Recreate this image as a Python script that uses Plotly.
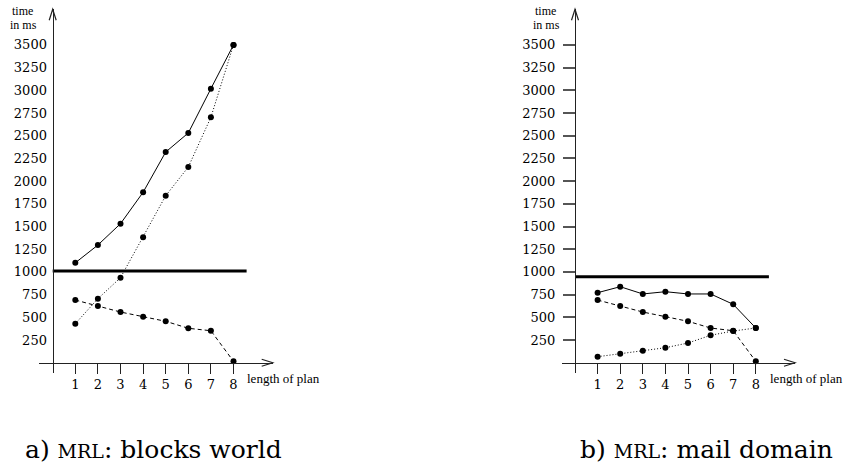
import plotly.graph_objects as go

# ---------------- data ----------------
plan_length = [1, 2, 3, 4, 5, 6, 7, 8]

# a) MRL: blocks world
blocks_solid = [1100, 1296, 1531, 1877, 2320, 2530, 3018, 3500]
blocks_dotted = [429, 705, 936, 1381, 1839, 2155, 2703, 3500]
blocks_dashed = [690, 624, 558, 507, 456, 379, 352, 15]
blocks_threshold = 1010

# b) MRL: mail domain
mail_solid = [771, 837, 757, 782, 757, 757, 643, 382]
mail_dashed = [690, 624, 558, 507, 456, 382, 352, 15]
mail_dotted = [66, 99, 132, 165, 217, 302, 349, 382]
mail_threshold = 947

threshold_span = [0, 8.58]

y_ticks = [250, 500, 750, 1000, 1250, 1500, 1750, 2000, 2250, 2500, 2750, 3000, 3250, 3500]
x_ticks = plan_length

# ---------------- layout geometry (pixels) ----------------
W, H = 843, 469
X_UNIT = 22.6          # px per plan step
Y_UNIT = 22.7 / 250.0  # px per ms
ZERO_Y = 362.7
TOP_Y = 9.3
BOT_Y = 373.0


def pxf(x):
    return x / W


def pyf(y):
    return 1 - y / H


panels = [
    dict(origin=52.7, left=39.3, right=272.7, xa="xaxis", ya="yaxis", ticks=""),
    dict(origin=575.0, left=561.7, right=795.0, xa="xaxis2", ya="yaxis2", ticks="outside"),
]

fig = go.Figure()

serif = "Liberation Serif"
num_font = dict(family="DejaVu Serif", size=13, color="black")


def add_series(xref, yref, ys, dash, name):
    fig.add_trace(go.Scatter(
        x=plan_length, y=ys, mode="lines+markers", name=name,
        xaxis=xref, yaxis=yref,
        line=dict(color="black", width=1, dash=dash),
        marker=dict(color="black", size=6),
        cliponaxis=False, showlegend=False, hoverinfo="skip"))


def add_threshold(xref, yref, val):
    fig.add_trace(go.Scatter(
        x=threshold_span, y=[val, val], mode="lines",
        xaxis=xref, yaxis=yref,
        line=dict(color="black", width=3),
        showlegend=False, hoverinfo="skip"))


add_threshold("x", "y", blocks_threshold)
add_series("x", "y", blocks_solid, "solid", "solid")
add_series("x", "y", blocks_dotted, "1px,2px", "dotted")
add_series("x", "y", blocks_dashed, "4px,3px", "dashed")

add_threshold("x2", "y2", mail_threshold)
add_series("x2", "y2", mail_solid, "solid", "solid")
add_series("x2", "y2", mail_dashed, "4px,3px", "dashed")
add_series("x2", "y2", mail_dotted, "1px,2px", "dotted")

layout = dict(
    width=W, height=H, autosize=False,
    margin=dict(l=0, r=0, t=0, b=0),
    paper_bgcolor="white", plot_bgcolor="white",
    showlegend=False,
)

shapes = []
annotations = []

for i, p in enumerate(panels):
    o, l, r = p["origin"], p["left"], p["right"]
    xr = [(l - o) / X_UNIT, (r - o) / X_UNIT]
    yr = [(ZERO_Y - BOT_Y) / Y_UNIT, (ZERO_Y - TOP_Y) / Y_UNIT]
    layout[p["xa"]] = dict(
        domain=[pxf(l), pxf(r)], range=xr, anchor="free", position=pyf(ZERO_Y),
        showline=True, linecolor="#222", linewidth=1.3,
        showgrid=False, zeroline=False,
        tickmode="array", tickvals=x_ticks, ticktext=[str(v) for v in x_ticks],
        ticks="outside", ticklen=10, tickwidth=1.3, tickcolor="#222",
        tickfont=num_font, fixedrange=True,
    )
    layout[p["ya"]] = dict(
        domain=[pyf(BOT_Y), pyf(TOP_Y)], range=yr, anchor="free", position=pxf(o),
        showline=True, linecolor="#222", linewidth=1.3,
        showgrid=False, zeroline=False,
        tickmode="array", tickvals=y_ticks, ticktext=[str(v) for v in y_ticks],
        ticks=p["ticks"], ticklen=12, tickwidth=1.5, tickcolor="#555",
        tickfont=num_font, fixedrange=True,
        ticklabelstandoff=(3 if p["ticks"] == "" else 5),
    )
    # axis arrowheads (open V)
    shapes.append(dict(
        type="path", xref="paper", yref="paper",
        path=f"M {pxf(o-3.5)},{pyf(TOP_Y+11)} L {pxf(o)},{pyf(TOP_Y)} L {pxf(o+3.5)},{pyf(TOP_Y+11)}",
        line=dict(color="#222", width=1.2)))
    shapes.append(dict(
        type="path", xref="paper", yref="paper",
        path=f"M {pxf(r-11)},{pyf(ZERO_Y-3.5)} L {pxf(r)},{pyf(ZERO_Y)} L {pxf(r-11)},{pyf(ZERO_Y+3.5)}",
        line=dict(color="#222", width=1.2)))
    # axis titles
    annotations.append(dict(
        xref="paper", yref="paper", x=pxf(o - 30), y=pyf(11), xanchor="center", yanchor="middle",
        text="time", showarrow=False, borderpad=0,
        font=dict(family=serif, size=12, color="black")))
    annotations.append(dict(
        xref="paper", yref="paper", x=pxf(o - 29), y=pyf(24.5), xanchor="center", yanchor="middle",
        text="in ms", showarrow=False, borderpad=0,
        font=dict(family=serif, size=12, color="black")))
    annotations.append(dict(
        xref="paper", yref="paper", x=pxf(o + 192.5), y=pyf(378), xanchor="left", yanchor="middle",
        text="length of plan", showarrow=False,
        font=dict(family=serif, size=13, color="black")))

cap_font = dict(family="DejaVu Serif", size=25, color="black")
annotations.append(dict(
    xref="paper", yref="paper", x=pxf(153), y=pyf(449), xanchor="center", yanchor="middle",
    text="a) <span style='font-size:19px'>MRL</span>: blocks world", showarrow=False, font=cap_font))
annotations.append(dict(
    xref="paper", yref="paper", x=pxf(706), y=pyf(449), xanchor="center", yanchor="middle",
    text="b) <span style='font-size:19px'>MRL</span>: mail domain", showarrow=False, font=cap_font))

layout["shapes"] = shapes
layout["annotations"] = annotations

fig.update_layout(**layout)
fig.write_html(
    "out.html",
    config={"displayModeBar": False},
    post_script="document.body.style.margin='0';document.body.style.overflow='hidden';",
)
